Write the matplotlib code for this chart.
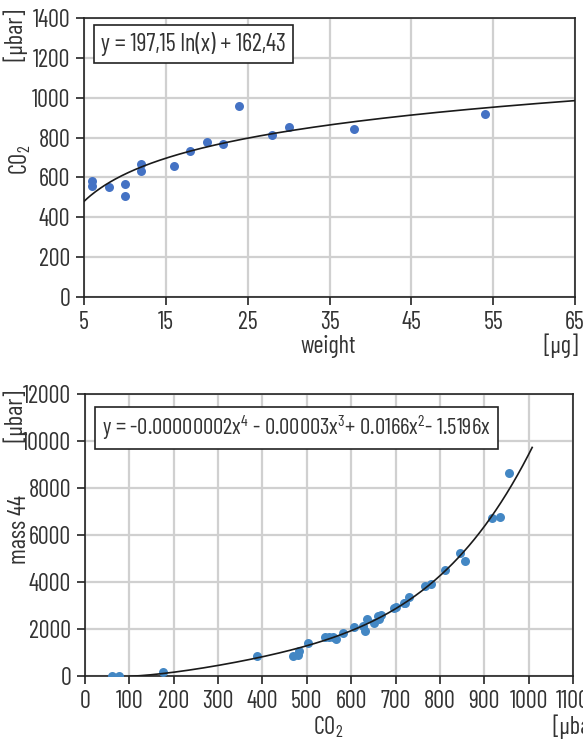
import numpy as np
import matplotlib
matplotlib.use("Agg")
import matplotlib.pyplot as plt

# ---------------- data ----------------
weight = [6, 6, 8, 10, 10, 12, 12, 16, 18, 20, 22, 24, 28, 30, 38, 54]
co2_top = [582, 558, 550, 565, 505, 666, 634, 659, 731, 780, 766, 956, 812, 855, 845, 917]
log_a, log_b = 197.15, 162.43

co2_bot = [61, 76, 176, 387, 468, 480, 482, 503, 540, 551, 558, 565, 581, 607, 626, 631,
           635, 651, 660, 663, 667, 696, 700, 719, 722, 730, 766, 781, 812, 845, 857,
           917, 936, 956]
mass44 = [0, 0, 185, 866, 852, 895, 1080, 1420, 1647, 1676, 1676, 1590, 1816, 2080, 2120, 1900,
          2440, 2270, 2550, 2442, 2580, 2880, 2950, 3100, 3096, 3380, 3834, 3934, 4502, 5226, 4913,
          6703, 6760, 8620]

top_xticks = [5, 15, 25, 35, 45, 55, 65]
top_yticks = [0, 200, 400, 600, 800, 1000, 1200, 1400]
bot_xticks = [0, 100, 200, 300, 400, 500, 600, 700, 800, 900, 1000, 1100]
bot_yticks = [0, 2000, 4000, 6000, 8000, 10000, 12000]

# ---------------- fonts ----------------
font = "Barlow Condensed"
plt.rcParams["font.family"] = [font, "Roboto Condensed", "DejaVu Sans"]
plt.rcParams["font.weight"] = "normal"
plt.rcParams["mathtext.fontset"] = "custom"
plt.rcParams["mathtext.rm"] = font
plt.rcParams["mathtext.it"] = font
plt.rcParams["mathtext.default"] = "rm"
TXT = "#333333"
FS = 17.5

W, H = 583, 739
fig = plt.figure(figsize=(W / 100, H / 100), dpi=100)


def ax_rect(l, r, t, b):
    return [l / W, 1 - b / H, (r - l) / W, (b - t) / H]


def style(ax):
    ax.grid(True, color="#d0d0d0", linewidth=1.6)
    ax.set_axisbelow(True)
    for s in ax.spines.values():
        s.set_color("#222222")
        s.set_linewidth(1.2)
    ax.tick_params(direction="out", length=6, width=1.2, color="#222222",
                   labelsize=FS, labelcolor=TXT, pad=4)


# ---------------- top plot ----------------
ax1 = fig.add_axes(ax_rect(84, 575, 18, 297))
style(ax1)
ax1.scatter(weight, co2_top, s=42, color="#4472C4", zorder=3, linewidths=0)
xs = np.linspace(5, 65, 300)
ax1.plot(xs, log_a * np.log(xs) + log_b, color="#1a1a1a", linewidth=1.2, zorder=4)
ax1.set_xlim(5, 65)
ax1.set_ylim(0, 1400)
ax1.set_xticks(top_xticks)
ax1.set_yticks(top_yticks)
ax1.text(0.035, 0.95, "y = 197,15 ln(x) + 162,43", transform=ax1.transAxes,
         fontsize=FS, color=TXT, va="top", ha="left",
         bbox=dict(boxstyle="square,pad=0.28", fc="white", ec="#222222", lw=1.2))

fig.text(15 / W, 1 - 35 / H, "[μbar]", rotation=90, ha="center", va="center",
         fontsize=FS, color=TXT)
fig.text(20 / W, 1 - 160 / H, "CO$_2$", rotation=90, ha="center", va="center",
         fontsize=FS, color=TXT)
fig.text(328 / W, 1 - 346 / H, "weight", ha="center", va="center", fontsize=FS, color=TXT)
fig.text(578 / W, 1 - 346 / H, "[μg]", ha="right", va="center", fontsize=FS, color=TXT)

# ---------------- bottom plot ----------------
ax2 = fig.add_axes(ax_rect(85, 573, 394, 676))
style(ax2)
ax2.scatter(co2_bot, mass44, s=42, color="#4387C4", zorder=3, linewidths=0)
xb = np.array(co2_bot, float)
yb = np.array(mass44, float)
A = np.vstack([xb ** 4, xb ** 3, xb ** 2, xb]).T
coef = np.linalg.lstsq(A, yb, rcond=None)[0]
xc = np.linspace(100, 1008, 300)
yc = coef[0] * xc ** 4 + coef[1] * xc ** 3 + coef[2] * xc ** 2 + coef[3] * xc
ax2.plot(xc, yc, color="#1a1a1a", linewidth=1.2, zorder=4)
ax2.set_xlim(0, 1100)
ax2.set_ylim(0, 12000)
ax2.set_xticks(bot_xticks)
ax2.set_yticks(bot_yticks)
ax2.text(0.035, 0.93,
         "y = -0.00000002x$^{4}$ - 0.00003x$^{3}$+ 0.0166x$^{2}$- 1.5196x",
         transform=ax2.transAxes, fontsize=16.5, color=TXT, va="top", ha="left",
         bbox=dict(boxstyle="square,pad=0.3", fc="white", ec="#222222", lw=1.2))

fig.text(15 / W, 1 - 416 / H, "[μbar]", rotation=90, ha="center", va="center",
         fontsize=FS, color=TXT)
fig.text(20 / W, 1 - 530 / H, "mass 44", rotation=90, ha="center", va="center",
         fontsize=FS, color=TXT)
fig.text(328 / W, 1 - 727 / H, "CO$_2$", ha="center", va="center", fontsize=FS, color=TXT)
fig.text(552 / W, 1 - 727 / H, "[μbar]", ha="left", va="center", fontsize=FS, color=TXT)

fig.savefig("out.png", dpi=100)
